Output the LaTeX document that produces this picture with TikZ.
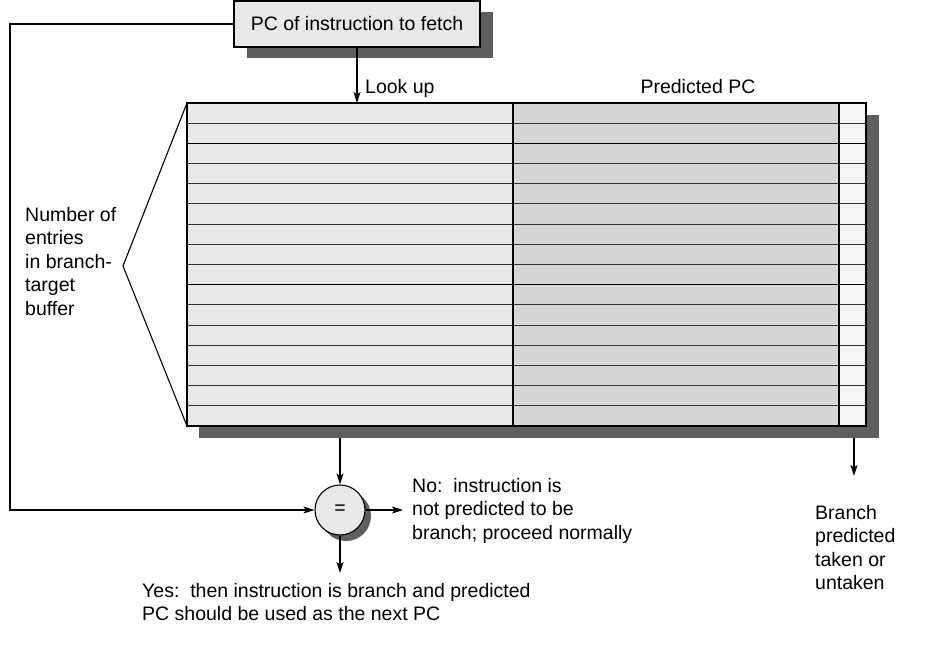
\documentclass[tikz,border=0pt]{standalone}
\usepackage{fontspec}
\setmainfont{Liberation Sans}
\usetikzlibrary{calc,arrows.meta}

\tikzset{
  lbl/.style={font=\fontsize{19.5}{23.5}\selectfont, inner sep=0pt},
  shade/.style={fill=black!63, draw=none},
  conn/.style={line width=1.1pt, -{Stealth[length=11pt,width=7pt,inset=2.5pt]}},
}

\begin{document}
\begin{tikzpicture}[x=1pt,y=-1pt]
		%%%%% START %%%%%
		\useasboundingbox (0,0) rectangle (937,657);
		
		% fetch box
		\fill[shade] (247,12) rectangle (493,58);
		\node[draw, line width=1.1pt, fill=black!9, minimum width=246, minimum height=46, lbl] (pcbox) at (357,24) {PC of instruction to fetch};
		
		% branch-target buffer
		\coordinate (tbl-nw) at (187,103);
		\coordinate (tbl-sw) at (187,426);
		\fill[shade] (199,115) rectangle (879,438);
		\fill[black!9] (187,103) rectangle (513,426);
		\fill[black!16] (513,103) rectangle (839,426);
		\fill[black!4] (839,103) rectangle (866,426);
		\foreach \r in {1,...,15}
			\draw[line width=0.9pt, color=black!80] (187,{103+\r*20.1875}) -- (866,{103+\r*20.1875});
		\draw[line width=1.4pt] (187,{103+2*20.1875}) -- (866,{103+2*20.1875});
		\draw[line width=1.4pt] (187,{103+9*20.1875}) -- (866,{103+9*20.1875});
		\draw[line width=1.1pt] (513,103) -- (513,426);
		\draw[line width=1.1pt] (839,103) -- (839,426);
		\draw[line width=1.1pt] (tbl-nw) rectangle (866,426);
		
		\node[lbl, anchor=base west] (lookup) at (365,93) {Look up};
		\node[lbl, anchor=base] (predpc) at (698,93) {Predicted PC};
		
		% entries brace
		\coordinate (apex) at (123,266);
		\draw[line width=1.1pt] (tbl-nw) -- (apex) -- (tbl-sw);
		\node[lbl, anchor=north west, align=left] (numtxt) at (25,207) {Number of\\entries\\in branch-\\target\\buffer};
		
		% compare
		\fill[shade] (346,516) circle (25);
		\node[circle, draw, line width=1.1pt, fill=black!9, minimum size=50, lbl] (eq) at (340,510) {=};
		\coordinate (tbl-out) at (340,438);
		\coordinate (fb) at (10,24);
		\coordinate (yes-end) at (340,573);
		\coordinate (br-out) at (854,438);
		\coordinate (br-end) at (854,476);
		
		\node[lbl, anchor=north west, align=left] (notxt) at (412,478) {No:\ \ instruction is\\not predicted to be\\branch; proceed normally};
		\node[lbl, anchor=north west, align=left] (yestxt) at (142,583) {Yes:\ \ then instruction is branch and predicted\\PC should be used as the next PC};
		\node[lbl, anchor=north west, align=left] (brtxt) at (815,505) {Branch\\predicted\\taken or\\untaken};
		
		% connectors
		\draw[conn] (pcbox.south) -- (pcbox.south |- tbl-nw);
		\draw[conn] (pcbox.west) -- (fb) |- (eq.west);
		\draw[conn] (tbl-out) -- (eq.north);
		\draw[conn, shorten >=9pt] (eq.east) -- (eq.east -| notxt.west);
		\draw[conn] (eq.south) -- (yes-end);
		\draw[conn] (br-out) -- (br-end);
		
		%%%%% END %%%%%
\end{tikzpicture}
\end{document}
